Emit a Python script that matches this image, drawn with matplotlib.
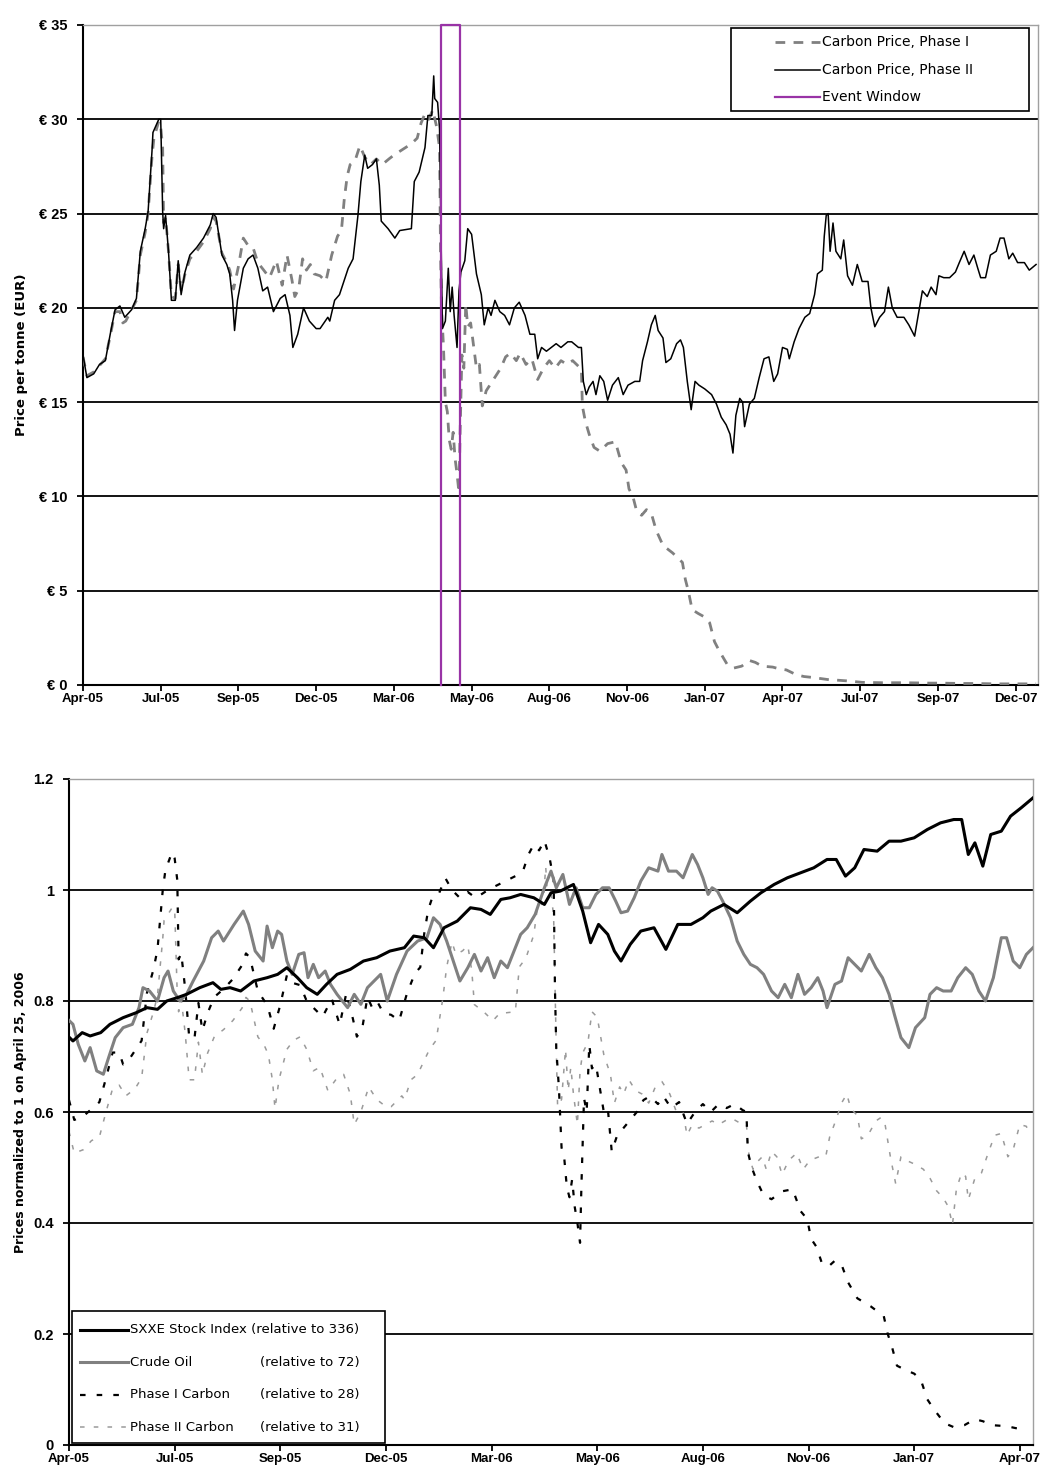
import numpy as np
import matplotlib.pyplot as plt
import matplotlib.dates as mdates
from matplotlib.patches import Rectangle

plt.rcParams['font.family'] = ['DejaVu Sans']

start = np.datetime64('2005-04-22')

# EUA prices in EUR per tonne, days counted from 22 Apr 2005
phase2_day = [0, 4, 11, 17, 23, 28, 33, 38, 43, 50, 55, 59, 64, 67, 71, 72, 78, 80, 82, 83,
              85, 88, 91, 95, 98, 101, 105, 110, 117, 124, 131, 134, 137, 143, 148, 151, 154, 156, 159, 165,
              170, 175, 180, 185, 190, 196, 203, 208, 213, 216, 221, 227, 233, 240, 244, 252, 254, 259, 264, 273,
              278, 283, 286, 290, 293, 298, 302, 305, 307, 314, 321, 326, 338, 341, 346, 352, 355, 359, 361, 362,
              365, 367, 369, 370, 373, 376, 378, 380, 382, 385, 387, 389, 393, 396, 400, 405, 410, 413, 417, 420,
              424, 429, 434, 439, 444, 449, 455, 460, 465, 468, 472, 477, 482, 487, 492, 499, 503, 510, 513, 515,
              518, 521, 525, 528, 532, 536, 540, 545, 551, 556, 561, 568, 573, 576, 581, 585, 589, 592, 597, 600,
              605, 611, 615, 618, 622, 626, 630, 634, 640, 647, 652, 657, 662, 666, 669, 672, 676, 679, 681, 686,
              691, 696, 701, 706, 711, 715, 720, 725, 727, 732, 737, 743, 748, 753, 756, 761, 763, 765, 767, 769,
              772, 775, 780, 783, 787, 792, 797, 802, 808, 811, 815, 820, 825, 829, 833, 838, 845, 850, 856, 860,
              864, 869, 873, 878, 881, 886, 892, 898, 902, 907, 912, 917, 921, 924, 929, 934, 940, 944, 948, 953,
              957, 962, 969, 974, 981]
phase2_price = [17.5, 16.3, 16.5, 17.0, 17.2, 18.6, 19.9, 20.1, 19.5, 19.9, 20.5, 23.0, 24.2, 25.1, 28.3, 29.3, 30.0, 30.0, 25.1, 24.2,
                24.9, 23.0, 20.4, 20.4, 22.5, 20.7, 21.9, 22.8, 23.2, 23.7, 24.4, 25.0, 24.8, 22.8, 22.3, 21.8, 20.4, 18.8, 20.4, 22.1,
                22.6, 22.8, 22.1, 20.9, 21.1, 19.8, 20.5, 20.7, 19.6, 17.9, 18.6, 20.0, 19.3, 18.9, 18.9, 19.5, 19.3, 20.4, 20.7, 22.1,
                22.6, 24.9, 26.7, 28.1, 27.4, 27.6, 27.9, 26.5, 24.6, 24.2, 23.7, 24.1, 24.2, 26.7, 27.2, 28.5, 30.2, 30.2, 32.3, 31.1,
                30.9, 29.5, 22.1, 18.9, 19.3, 22.1, 19.8, 21.1, 19.6, 17.9, 20.9, 21.9, 22.5, 24.2, 23.9, 21.8, 20.7, 19.1, 20.0, 19.6,
                20.4, 19.8, 19.6, 19.1, 20.0, 20.3, 19.6, 18.6, 18.6, 17.3, 17.9, 17.7, 17.9, 18.1, 17.9, 18.2, 18.2, 17.9, 17.9, 16.1,
                15.4, 15.8, 16.1, 15.4, 16.4, 16.1, 15.1, 15.9, 16.3, 15.4, 15.9, 16.1, 16.1, 17.2, 18.2, 19.1, 19.6, 18.8, 18.4, 17.1,
                17.3, 18.1, 18.3, 17.9, 16.1, 14.6, 16.1, 15.9, 15.7, 15.4, 14.9, 14.2, 13.8, 13.3, 12.3, 14.3, 15.2, 15.0, 13.7, 14.9,
                15.2, 16.3, 17.3, 17.4, 16.1, 16.5, 17.9, 17.8, 17.3, 18.2, 18.9, 19.5, 19.7, 20.7, 21.8, 22.0, 23.8, 24.9, 25.0, 23.0,
                24.5, 23.0, 22.6, 23.6, 21.7, 21.2, 22.3, 21.4, 21.4, 20.0, 19.0, 19.5, 19.8, 21.1, 20.0, 19.5, 19.5, 19.1, 18.5, 19.7,
                20.9, 20.6, 21.1, 20.7, 21.7, 21.6, 21.6, 21.9, 22.4, 23.0, 22.3, 22.8, 22.1, 21.6, 21.6, 22.8, 23.0, 23.7, 23.7, 22.6,
                22.9, 22.4, 22.4, 22.0, 22.3]

phase1_day = [0, 4, 11, 18, 23, 28, 33, 38, 41, 44, 50, 55, 59, 64, 67, 71, 73, 78, 80, 82,
              83, 85, 88, 91, 95, 98, 101, 105, 110, 117, 124, 131, 134, 137, 143, 148, 151, 155, 160, 165,
              170, 175, 180, 186, 192, 199, 205, 210, 215, 218, 222, 226, 230, 234, 238, 244, 250, 256, 262, 266,
              269, 272, 275, 280, 285, 290, 296, 302, 308, 315, 320, 326, 332, 338, 344, 348, 352, 356, 360, 364,
              367, 368, 369, 371, 373, 375, 377, 379, 381, 383, 385, 387, 388, 390, 392, 394, 396, 399, 402, 405,
              408, 411, 415, 420, 425, 430, 435, 440, 446, 450, 456, 462, 468, 474, 480, 486, 492, 498, 504, 510,
              513, 514, 517, 521, 526, 532, 540, 548, 554, 559, 562, 566, 570, 575, 580, 585, 590, 597, 607, 613,
              617, 620, 623, 627, 633, 640, 645, 650, 655, 663, 670, 678, 686, 692, 699, 710, 717, 724, 734, 742,
              751, 768, 778, 786, 802, 812, 823, 837, 846, 856, 871, 882, 892, 905, 917, 929, 940, 956, 972, 981]
phase1_price = [17.4, 16.4, 16.6, 17.0, 17.3, 18.5, 19.8, 19.8, 19.2, 19.3, 19.9, 20.4, 22.8, 24.0, 25.0, 28.0, 29.0, 29.9, 29.6, 28.5,
                24.5, 24.8, 23.0, 20.6, 20.5, 22.3, 20.9, 21.8, 22.6, 23.0, 23.5, 24.2, 24.8, 24.6, 22.9, 22.4, 22.0, 21.0, 22.2, 23.7,
                23.3, 23.2, 22.4, 22.0, 21.6, 22.5, 21.2, 22.8, 21.5, 20.6, 21.0, 22.6, 22.0, 22.3, 21.8, 21.7, 21.4, 22.8, 23.8, 24.1,
                25.8, 27.0, 27.6, 27.8, 28.6, 28.0, 27.6, 27.9, 27.6, 27.9, 28.1, 28.3, 28.5, 28.7, 29.0, 29.8, 30.3, 30.0, 30.5, 29.6,
                28.5, 23.0, 20.0, 18.0, 15.0, 14.5, 13.0, 12.5, 13.4, 12.0, 11.2, 10.2, 13.0, 17.5, 16.8, 20.2, 19.0, 19.2, 18.0, 16.8,
                17.0, 14.8, 15.6, 16.0, 16.4, 16.8, 17.4, 17.6, 17.2, 17.6, 17.0, 17.3, 16.2, 16.8, 17.2, 16.8, 17.2, 17.0, 17.2, 16.9,
                16.8, 14.8, 14.0, 13.3, 12.6, 12.4, 12.8, 12.9, 11.8, 11.4, 10.4, 10.0, 9.2, 9.0, 9.3, 9.1, 8.2, 7.4, 7.0, 6.7,
                6.5, 5.6, 5.0, 4.0, 3.8, 3.6, 3.3, 2.3, 1.8, 1.1, 0.9, 1.0, 1.3, 1.2, 1.0, 0.95, 0.85, 0.8, 0.55, 0.45,
                0.4, 0.28, 0.25, 0.22, 0.14, 0.13, 0.12, 0.12, 0.12, 0.11, 0.1, 0.1, 0.09, 0.08, 0.08, 0.07, 0.06, 0.06, 0.06, 0.06]

event_window = [np.datetime64('2006-04-25'), np.datetime64('2006-05-15')]

# Euro Stoxx index and crude oil, already relative to their 25 Apr 2006 level
stock_day = [0, 3, 10, 16, 24, 31, 41, 51, 59, 67, 74, 82, 89, 99, 109, 115, 122, 130, 140, 150,
             158, 165, 173, 180, 188, 195, 203, 213, 223, 233, 243, 254, 261, 269, 276, 284, 294, 304, 312, 319,
             327, 334, 342, 352, 360, 365, 372, 382, 389, 395, 401, 408, 413, 418, 425, 433, 443, 452, 461, 471,
             480, 486, 496, 506, 516, 524, 534, 544, 554, 564, 574, 581, 588, 595, 602, 612, 621, 630, 640, 650,
             660, 670, 676, 681, 686, 692, 698, 706, 713, 721, 730]
stock_rel = [0.735, 0.728, 0.743, 0.737, 0.743, 0.758, 0.770, 0.779, 0.788, 0.785, 0.800, 0.806, 0.812, 0.824, 0.833, 0.821, 0.824, 0.818, 0.836, 0.842,
             0.848, 0.860, 0.842, 0.824, 0.812, 0.830, 0.848, 0.857, 0.872, 0.878, 0.890, 0.896, 0.917, 0.914, 0.896, 0.932, 0.944, 0.968, 0.965, 0.956,
             0.983, 0.986, 0.992, 0.986, 0.974, 0.995, 0.998, 1.010, 0.962, 0.905, 0.938, 0.920, 0.890, 0.872, 0.902, 0.926, 0.932, 0.893, 0.938, 0.938,
             0.950, 0.962, 0.974, 0.959, 0.980, 0.995, 1.010, 1.022, 1.031, 1.040, 1.055, 1.055, 1.025, 1.040, 1.073, 1.070, 1.088, 1.088, 1.094, 1.109,
             1.121, 1.127, 1.127, 1.064, 1.085, 1.043, 1.100, 1.106, 1.133, 1.148, 1.166]

oil_day = [0, 3, 7, 12, 16, 21, 26, 30, 35, 41, 48, 53, 56, 61, 67, 72, 75, 79, 84, 89,
           94, 102, 108, 113, 117, 125, 132, 136, 141, 147, 150, 154, 158, 161, 165, 169, 174, 178, 181, 185,
           189, 194, 198, 203, 211, 216, 221, 226, 231, 236, 241, 248, 256, 264, 271, 276, 281, 286, 291, 296,
           302, 307, 312, 317, 322, 327, 332, 338, 342, 347, 353, 360, 365, 369, 374, 379, 384, 389, 394, 399,
           404, 409, 414, 418, 423, 428, 433, 439, 446, 449, 454, 460, 465, 468, 472, 476, 480, 484, 487, 491,
           495, 501, 506, 511, 516, 521, 526, 532, 537, 542, 547, 552, 557, 562, 567, 571, 574, 580, 585, 590,
           595, 600, 606, 611, 616, 621, 625, 630, 636, 641, 648, 652, 657, 662, 668, 673, 679, 684, 689, 694,
           700, 706, 710, 715, 720, 725, 730]
oil_rel = [0.765, 0.758, 0.722, 0.692, 0.716, 0.674, 0.668, 0.698, 0.734, 0.752, 0.758, 0.788, 0.824, 0.818, 0.800, 0.842, 0.854, 0.818, 0.800, 0.812,
           0.836, 0.872, 0.914, 0.926, 0.908, 0.938, 0.962, 0.938, 0.890, 0.872, 0.935, 0.896, 0.926, 0.920, 0.872, 0.848, 0.884, 0.887, 0.842, 0.866,
           0.842, 0.854, 0.830, 0.812, 0.788, 0.812, 0.794, 0.824, 0.836, 0.848, 0.800, 0.848, 0.890, 0.908, 0.914, 0.950, 0.938, 0.908, 0.872, 0.836,
           0.860, 0.884, 0.854, 0.878, 0.842, 0.872, 0.860, 0.896, 0.920, 0.932, 0.956, 1.004, 1.034, 1.004, 1.028, 0.974, 1.004, 0.968, 0.968, 0.992,
           1.004, 1.004, 0.980, 0.959, 0.962, 0.986, 1.016, 1.040, 1.034, 1.064, 1.034, 1.034, 1.022, 1.040, 1.064, 1.046, 1.022, 0.992, 1.004, 0.998,
           0.980, 0.950, 0.908, 0.884, 0.866, 0.860, 0.848, 0.818, 0.806, 0.830, 0.806, 0.848, 0.812, 0.824, 0.842, 0.818, 0.788, 0.830, 0.836, 0.878,
           0.866, 0.854, 0.884, 0.860, 0.842, 0.812, 0.776, 0.734, 0.716, 0.752, 0.770, 0.812, 0.824, 0.818, 0.818, 0.842, 0.860, 0.848, 0.818, 0.800,
           0.842, 0.914, 0.914, 0.872, 0.860, 0.884, 0.896]

stock_base = 336
oil_base = 72
phase1_base = 28
phase2_base = 31

price_ticks = [0, 5, 10, 15, 20, 25, 30, 35]
rel_ticks = [0, 0.2, 0.4, 0.6, 0.8, 1.0, 1.2]
tick_step = 80
top_days = 983
bottom_days = 730

GREY = '#808080'
LIGHT = '#9a9a9a'
PURPLE = '#9933a6'
TICK_FONT = 'Liberation Sans'


def to_dates(days):
    return start + np.array(days).astype('timedelta64[D]')


def style_axes(ax, ndays, yticks):
    ax.set_xlim(start, start + np.timedelta64(ndays, 'D'))
    ax.set_ylim(yticks[0], yticks[-1])
    ax.set_yticks(yticks)
    ax.set_xticks(start + np.arange(0, ndays, tick_step).astype('timedelta64[D]'))
    ax.xaxis.set_major_formatter(mdates.DateFormatter('%b-%y'))
    ax.yaxis.grid(True, color='black', lw=1.3)
    ax.set_axisbelow(True)
    for s in ('top', 'right'):
        ax.spines[s].set_color('#a0a0a0')
        ax.spines[s].set_linewidth(1.0)
    for s in ('left', 'bottom'):
        ax.spines[s].set_color('black')
        ax.spines[s].set_linewidth(1.5)
    ax.tick_params(axis='both', direction='out', length=4, width=1.3)
    ax.tick_params(axis='y', pad=7, labelsize=10.5)
    ax.tick_params(axis='x', pad=2, labelsize=9.5)
    for lab in ax.get_xticklabels() + ax.get_yticklabels():
        lab.set_fontweight('bold')
        lab.set_family(TICK_FONT)


def legend_frame(ax, x0, y0, x1, y1):
    ax.add_patch(Rectangle((x0, y0), x1 - x0, y1 - y0, transform=ax.transAxes,
                           facecolor='white', edgecolor='black', lw=1.2, zorder=5))


def legend_row(ax, y, x0, x1, label, size, **style):
    ax.plot([x0, x1], [y, y], transform=ax.transAxes, zorder=6, clip_on=False, **style)
    ax.text(x1 + 0.002, y, label, transform=ax.transAxes, va='center', ha='left',
            fontsize=size, zorder=7)


fig = plt.figure(figsize=(10.42, 14.81), dpi=100)

# upper panel: carbon prices
ax1 = fig.add_axes([83 / 1042, 1 - 685 / 1481, 955 / 1042, 660 / 1481])
p1_style = dict(color=GREY, lw=2.0, dashes=(3.5, 3))
p2_style = dict(color='black', lw=1.1)
ew_style = dict(color=PURPLE, lw=1.6)
ax1.plot(to_dates(phase1_day), phase1_price, zorder=3, **p1_style)
ax1.plot(to_dates(phase2_day), phase2_price, zorder=4, **p2_style)
ax1.plot([event_window[0], event_window[0], event_window[1], event_window[1]],
         [price_ticks[0], price_ticks[-1], price_ticks[-1], price_ticks[0]],
         zorder=5, clip_on=False, **ew_style)
style_axes(ax1, top_days, price_ticks)
ax1.set_yticklabels([f'€ {v}' for v in price_ticks])
ax1.set_ylabel('Price per tonne (EUR)', fontsize=9.5, fontweight='bold')
ax1.yaxis.set_label_coords(-0.058, 0.5)

legend_frame(ax1, 0.6785, 0.8697, 0.9906, 0.9955)
legend_row(ax1, 0.9742, 0.7246, 0.7717, 'Carbon Price, Phase I', 10, **p1_style)
legend_row(ax1, 0.9318, 0.7246, 0.7717, 'Carbon Price, Phase II', 10, **p2_style)
legend_row(ax1, 0.8909, 0.7246, 0.7717, 'Event Window', 10, **ew_style)

# lower panel: prices normalised to 25 Apr 2006
ax2 = fig.add_axes([69 / 1042, 1 - 1445 / 1481, 964 / 1042, 666 / 1481])
p1_days = np.array(phase1_day)
p2_days = np.array(phase2_day)
m1 = p1_days <= bottom_days
m2 = p2_days <= bottom_days
c1_style = dict(color='black', lw=1.6, dashes=(2.5, 5))
c2_style = dict(color=LIGHT, lw=1.1, dashes=(3, 6))
oil_style = dict(color=GREY, lw=2.2)
stock_style = dict(color='black', lw=2.2)
ax2.plot(to_dates(p2_days[m2]), np.array(phase2_price)[m2] / phase2_base, zorder=2, **c2_style)
ax2.plot(to_dates(p1_days[m1]), np.array(phase1_price)[m1] / phase1_base, zorder=3, **c1_style)
ax2.plot(to_dates(oil_day), oil_rel, zorder=3, **oil_style)
ax2.plot(to_dates(stock_day), stock_rel, zorder=4, **stock_style)
style_axes(ax2, bottom_days, rel_ticks)
ax2.set_yticklabels([f'{v:g}' for v in rel_ticks])
ax2.set_ylabel('Prices normalized to 1 on April 25, 2006', fontsize=9, fontweight='bold')
ax2.yaxis.set_label_coords(-0.044, 0.5)

legend_frame(ax2, 0.0031, 0.003, 0.3278, 0.2012)
col2 = 0.198
legend_row(ax2, 0.1727, 0.0114, 0.0612, f'SXXE Stock Index (relative to {stock_base})', 9.5, **stock_style)
legend_row(ax2, 0.1246, 0.0114, 0.0612, 'Crude Oil', 9.5, **oil_style)
legend_row(ax2, 0.0751, 0.0114, 0.0612, 'Phase I Carbon', 9.5, **c1_style)
legend_row(ax2, 0.0270, 0.0114, 0.0612, 'Phase II Carbon', 9.5, **c2_style)
for y, base in [(0.1246, oil_base), (0.0751, phase1_base), (0.0270, phase2_base)]:
    ax2.text(col2, y, f'(relative to {base})', transform=ax2.transAxes,
             va='center', ha='left', fontsize=9.5, zorder=7)

fig.savefig('out.png', dpi=100)
